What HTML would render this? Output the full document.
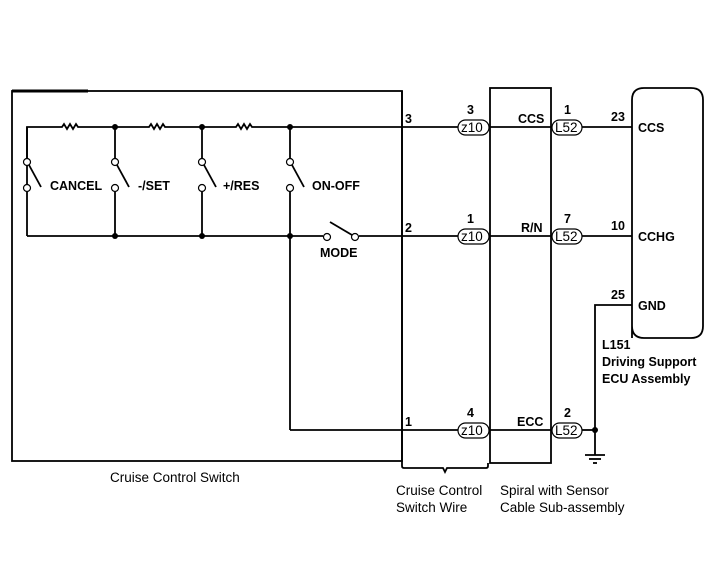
<!DOCTYPE html>
<html><head><meta charset="utf-8"><style>
html,body{margin:0;padding:0;background:#fff}
svg{display:block}
text{font-family:"Liberation Sans",sans-serif;font-size:13.5px;fill:#000}
.b text{font-weight:bold;font-size:12.5px}
</style></head><body>
<svg width="712" height="581" viewBox="0 0 712 581" xmlns="http://www.w3.org/2000/svg">
<g fill="none" stroke="#000" stroke-width="1.8">
<rect x="12" y="91" width="390" height="370"/>
<line x1="12" y1="91" x2="88" y2="91" stroke-width="3"/>
<path d="M27 187 V127 H62 l2 -3 l3 5 l3 -5 l3 5 l3 -5 l2 3 H149 l2 -3 l3 5 l3 -5 l3 5 l3 -5 l2 3 H236 l2 -3 l3 5 l3 -5 l3 5 l3 -5 l2 3 H460"/>
<line x1="490" y1="127" x2="552" y2="127"/>
<line x1="582" y1="127" x2="632" y2="127"/>
<line x1="27" y1="127" x2="27" y2="158"/>
<line x1="27" y1="192" x2="27" y2="236"/>
<line x1="115" y1="127" x2="115" y2="158"/>
<line x1="115" y1="192" x2="115" y2="236"/>
<line x1="202" y1="127" x2="202" y2="158"/>
<line x1="202" y1="192" x2="202" y2="236"/>
<line x1="290" y1="127" x2="290" y2="158"/>
<line x1="290" y1="192" x2="290" y2="430"/>
<line x1="29" y1="165" x2="41" y2="187"/>
<line x1="117" y1="165" x2="129" y2="187"/>
<line x1="204" y1="165" x2="216" y2="187"/>
<line x1="292" y1="165" x2="304" y2="187"/>
<line x1="27" y1="236" x2="323" y2="236"/>
<line x1="359" y1="236" x2="460" y2="236"/>
<line x1="330" y1="222" x2="352" y2="235"/>
<line x1="490" y1="236" x2="552" y2="236"/>
<line x1="582" y1="236" x2="632" y2="236"/>
<line x1="290" y1="430" x2="460" y2="430"/>
<line x1="490" y1="430" x2="552" y2="430"/>
<line x1="582" y1="430" x2="595" y2="430"/>
<path d="M632 305 H595 V455"/>
<line x1="585" y1="455" x2="605" y2="455"/>
<line x1="589" y1="459" x2="601" y2="459"/>
<line x1="593" y1="463" x2="597" y2="463"/>
<line x1="402" y1="91" x2="402" y2="461"/>
<rect x="490" y="88" width="61" height="375"/>
<path d="M402 461 V466 q0 2 2 2 H443 l2 4 l2 -4 H486 q2 0 2 -2 V463"/>
<path d="M632 338 V100 q0 -12 12 -12 H691 q12 0 12 12 V326 q0 12 -12 12 H644 q-12 0 -12 -12"/>
</g>
<g fill="#fff" stroke="#000" stroke-width="1.2">
<circle cx="27" cy="162" r="3.5"/><circle cx="27" cy="188" r="3.5"/>
<circle cx="115" cy="162" r="3.5"/><circle cx="115" cy="188" r="3.5"/>
<circle cx="202" cy="162" r="3.5"/><circle cx="202" cy="188" r="3.5"/>
<circle cx="290" cy="162" r="3.5"/><circle cx="290" cy="188" r="3.5"/>
<circle cx="327" cy="237" r="3.5"/><circle cx="355" cy="237" r="3.5"/>
<rect x="458" y="120" width="31" height="15" rx="7.5"/>
<rect x="458" y="229" width="31" height="15" rx="7.5"/>
<rect x="458" y="423" width="31" height="15" rx="7.5"/>
<rect x="552" y="120" width="30" height="15" rx="7.5"/>
<rect x="552" y="229" width="30" height="15" rx="7.5"/>
<rect x="552" y="423" width="30" height="15" rx="7.5"/>
</g>
<g fill="#000">
<circle cx="115" cy="127" r="3"/><circle cx="202" cy="127" r="3"/><circle cx="290" cy="127" r="3"/>
<circle cx="115" cy="236" r="3"/><circle cx="202" cy="236" r="3"/><circle cx="290" cy="236" r="3"/>
<circle cx="595" cy="430" r="3"/>
</g>
<g>
<text x="461" y="132" font-size="12">z10</text><text x="461" y="241" font-size="12">z10</text><text x="461" y="435" font-size="12">z10</text>
<text x="555" y="132" font-size="12">L52</text><text x="555" y="241" font-size="12">L52</text><text x="555" y="435" font-size="12">L52</text>
</g>
<g class="b">
<text x="50" y="190">CANCEL</text>
<text x="138" y="190">-/SET</text>
<text x="223" y="190">+/RES</text>
<text x="312" y="190">ON-OFF</text>
<text x="320" y="257">MODE</text>
<text x="405" y="123">3</text><text x="405" y="232">2</text><text x="405" y="426">1</text>
<text x="467" y="114">3</text><text x="467" y="223">1</text><text x="467" y="417">4</text>
<text x="518" y="123">CCS</text><text x="521" y="232">R/N</text><text x="517" y="426">ECC</text>
<text x="564" y="114">1</text><text x="564" y="223">7</text><text x="564" y="417">2</text>
<text x="611" y="121">23</text><text x="611" y="230">10</text><text x="611" y="299">25</text>
<text x="638" y="132">CCS</text><text x="638" y="241">CCHG</text><text x="638" y="310">GND</text>
<text x="602" y="349">L151</text>
<text x="602" y="366">Driving Support</text>
<text x="602" y="383">ECU Assembly</text>
</g>
<text x="110" y="482">Cruise Control Switch</text>
<text x="396" y="495">Cruise Control</text>
<text x="396" y="512">Switch Wire</text>
<text x="500" y="495">Spiral with Sensor</text>
<text x="500" y="512">Cable Sub-assembly</text>
</svg>
</body></html>
